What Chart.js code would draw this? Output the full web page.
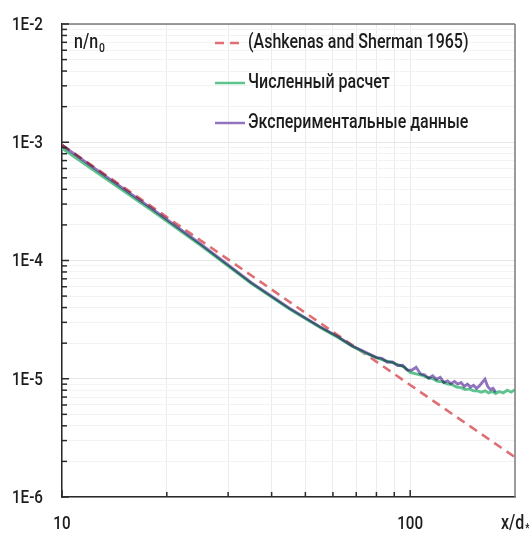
<!DOCTYPE html>
<html>
<head>
<meta charset="utf-8">
<script src="https://cdn.jsdelivr.net/npm/chart.js@4.4.0/dist/chart.umd.min.js"></script>
<style>
  html, body { margin: 0; padding: 0; background: #fff; }
</style>
</head>
<body>
<canvas id="densityChart" width="529" height="536"></canvas>
<script>
"use strict";
var FONT = 'Roboto, "DejaVu Sans", sans-serif';
var SQUEEZE = 0.8;           // narrow lettering
var TEXT = "#1c1c1c";

// series names
var seriesNames = ["(Ashkenas and Sherman 1965)", "Численный расчет", "Экспериментальные данные"];

// Ashkenas & Sherman far-field line
var ashX = [10, 20, 50, 100, 200];
var ashY = [9.5e-4, 2.33e-4, 3.61e-5, 8.86e-6, 2.17e-6];

// numerical result
var numX = [10, 13, 18, 25, 35, 45, 55, 62, 68, 74,
            80, 84, 88, 92, 96, 100, 104, 108, 112, 116, 120, 124, 128, 132, 136,
            140, 144, 148, 152, 156, 160, 164, 168, 172, 176, 180, 185, 190, 195, 200];
var numY = [8.89e-4, 5.20e-4, 2.68e-4, 1.34e-4, 6.38e-5, 3.88e-5, 2.73e-5, 2.23e-5, 1.89e-5, 1.66e-5,
            1.51e-5, 1.43e-5, 1.38e-5, 1.32e-5, 1.26e-5, 1.13e-5, 1.10e-5, 1.07e-5, 1.02e-5, 1.00e-5,
            9.5e-6, 9.4e-6, 9.0e-6, 8.9e-6, 8.5e-6, 8.4e-6, 8.1e-6, 8.2e-6, 7.9e-6, 7.9e-6,
            7.7e-6, 7.9e-6, 7.6e-6, 7.8e-6, 7.5e-6, 7.8e-6, 7.6e-6, 8.0e-6, 7.7e-6, 8.1e-6];

// experimental data
var expX = [10, 13, 18, 25, 35, 45, 55, 62, 68, 74,
            80, 83, 86, 89, 92, 95, 98, 101, 104, 107, 110, 113, 116, 119, 122,
            125, 128, 131, 134, 137, 140, 143, 146, 149, 152, 155, 158, 161, 164,
            167, 170, 173, 176];
var expY = [9.44e-4, 5.46e-4, 2.79e-4, 1.38e-4, 6.51e-5, 3.96e-5, 2.76e-5, 2.27e-5, 1.90e-5, 1.69e-5,
            1.51e-5, 1.49e-5, 1.38e-5, 1.39e-5, 1.29e-5, 1.30e-5, 1.19e-5, 1.18e-5, 1.25e-5, 1.10e-5,
            1.08e-5, 1.01e-5, 1.06e-5, 9.9e-6, 1.03e-5, 9.3e-6, 9.6e-6, 9.1e-6, 9.5e-6, 9.0e-6,
            9.3e-6, 8.6e-6, 9.0e-6, 8.5e-6, 8.8e-6, 8.3e-6, 8.7e-6, 9.3e-6, 9.9e-6,
            8.6e-6, 8.1e-6, 8.3e-6, 7.7e-6];

// axis ticks
var xMajor = [10, 100];
var xMajorLabels = ["10", "100"];
var xMinor = [20, 30, 40, 50, 60, 70, 80, 90];
var yMajor = [1e-6, 1e-5, 1e-4, 1e-3, 1e-2];
var yMajorLabels = ["1E-6", "1E-5", "1E-4", "1E-3", "1E-2"];
var yMinorSteps = [2, 3, 4, 5, 6, 7, 8, 9];

var xTickValues = xMajor.concat(xMinor).sort(function (a, b) { return a - b; });
var yTickValues = yMajor.slice();
yMajor.slice(0, -1).forEach(function (d) {
    yMinorSteps.forEach(function (s) { yTickValues.push(s * d); });
});
yTickValues.sort(function (a, b) { return a - b; });

function toPoints(xs, ys) {
    return xs.map(function (x, i) { return { x: x, y: ys[i] }; });
}
function majorIndex(list, v) {
    for (var i = 0; i < list.length; i++) {
        if (Math.abs(list[i] - v) / list[i] < 1e-9) return i;
    }
    return -1;
}

// narrow text: measure, squeeze horizontally, align
function drawText(c, s, x, y, size, align) {
    c.save();
    c.font = "500 " + size + "px " + FONT;
    c.textBaseline = "middle";
    c.textAlign = "left";
    c.fillStyle = TEXT;
    var w = c.measureText(s).width * SQUEEZE;
    var x0 = align === "right" ? x - w : (align === "center" ? x - w / 2 : x);
    c.translate(x0, y);
    c.scale(SQUEEZE, 1);
    c.fillText(s, 0, 0);
    c.restore();
    return w;
}

// purple curve is blended so overlaps darken like ink
var blendPlugin = {
    id: "blendExp",
    beforeDatasetDraw: function (chart, args) {
        if (args.index === 2) { chart.ctx.save(); chart.ctx.globalCompositeOperation = "multiply"; }
    },
    afterDatasetDraw: function (chart, args) {
        if (args.index === 2) { chart.ctx.restore(); }
    }
};

// frame, inward ticks, tick labels, legend and axis captions
var decorPlugin = {
    id: "decor",
    afterDraw: function (chart) {
        var c = chart.ctx, a = chart.chartArea, xs = chart.scales.x, ys = chart.scales.y;
        function seg(x1, y1, x2, y2) { c.beginPath(); c.moveTo(x1, y1); c.lineTo(x2, y2); c.stroke(); }
        c.save();
        c.strokeStyle = "#7a7a7a"; c.lineWidth = 1.5;
        seg(a.left, a.top, a.right, a.top);
        seg(a.right, a.top, a.right, a.bottom);

        c.strokeStyle = "#2a2a2a"; c.lineWidth = 1.5;
        ys.ticks.forEach(function (t) {
            var y = ys.getPixelForValue(t.value);
            var i = majorIndex(yMajor, t.value);
            seg(a.left, y, a.left + (i >= 0 ? 7 : 5), y);
            if (i >= 0) drawText(c, yMajorLabels[i], 43, y + 1, 19, "right");
        });
        xs.ticks.forEach(function (t) {
            var x = xs.getPixelForValue(t.value);
            var i = majorIndex(xMajor, t.value);
            seg(x, a.bottom, x, a.bottom - (i >= 0 ? 7 : 5));
            if (i >= 0) drawText(c, xMajorLabels[i], x, 524, 19, "center");
        });

        // legend
        var lx = 215, rows = [43, 83, 123];
        chart.data.datasets.forEach(function (ds, i) {
            c.strokeStyle = ds.borderColor; c.lineWidth = 2.5;
            c.setLineDash(ds.borderDash || []);
            seg(lx, rows[i], lx + 30, rows[i]);
            c.setLineDash([]);
            drawText(c, ds.label, lx + 33, rows[i], 20, "left");
        });

        // n/n0
        var w = drawText(c, "n/n", 74, 43, 20, "left");
        drawText(c, "0", 74 + w + 1, 49, 13, "left");

        // x/d*
        w = drawText(c, "x/d", 501, 524, 20, "left");
        drawText(c, "*", 501 + w + 1, 529, 12, "left");
        c.restore();
    }
};

var ctx = document.getElementById("densityChart");
var densityChart = new Chart(ctx, {
    type: "line",
    data: {
        datasets: [{
            label: seriesNames[0],
            data: toPoints(ashX, ashY),
            borderColor: "#df6f74",
            borderWidth: 2.6,
            borderDash: [9, 6],
            pointRadius: 0,
            order: 3
        }, {
            label: seriesNames[1],
            data: toPoints(numX, numY),
            borderColor: "#5ec48f",
            borderWidth: 2.8,
            pointRadius: 0,
            order: 2
        }, {
            label: seriesNames[2],
            data: toPoints(expX, expY),
            borderColor: "#9173be",
            borderWidth: 2.8,
            pointRadius: 0,
            order: 1
        }]
    },
    options: {
        responsive: false,
        animation: false,
        devicePixelRatio: 1,
        layout: { padding: { top: 24, right: 14, left: 0, bottom: 0 } },
        plugins: { legend: { display: false }, tooltip: { enabled: false } },
        scales: {
            x: {
                type: "logarithmic",
                min: 10,
                max: 200,
                afterBuildTicks: function (s) { s.ticks = xTickValues.map(function (v) { return { value: v }; }); },
                afterFit: function (s) { s.height = 39; },
                ticks: { display: false, autoSkip: false },
                grid: { color: "#ececec", lineWidth: 1, drawTicks: false },
                border: { color: "#2a2a2a", width: 1.5 }
            },
            y: {
                type: "logarithmic",
                min: 1e-6,
                max: 1e-2,
                afterBuildTicks: function (s) { s.ticks = yTickValues.map(function (v) { return { value: v }; }); },
                afterFit: function (s) { s.width = 62; },
                ticks: { display: false, autoSkip: false },
                grid: {
                    drawTicks: false,
                    lineWidth: 1,
                    color: function (c) { return majorIndex(yMajor, c.tick.value) >= 0 ? "#e6e6e6" : "#f3f3f3"; }
                },
                border: { color: "#2a2a2a", width: 1.5 }
            }
        }
    },
    plugins: [blendPlugin, decorPlugin]
});
</script>
</body>
</html>
